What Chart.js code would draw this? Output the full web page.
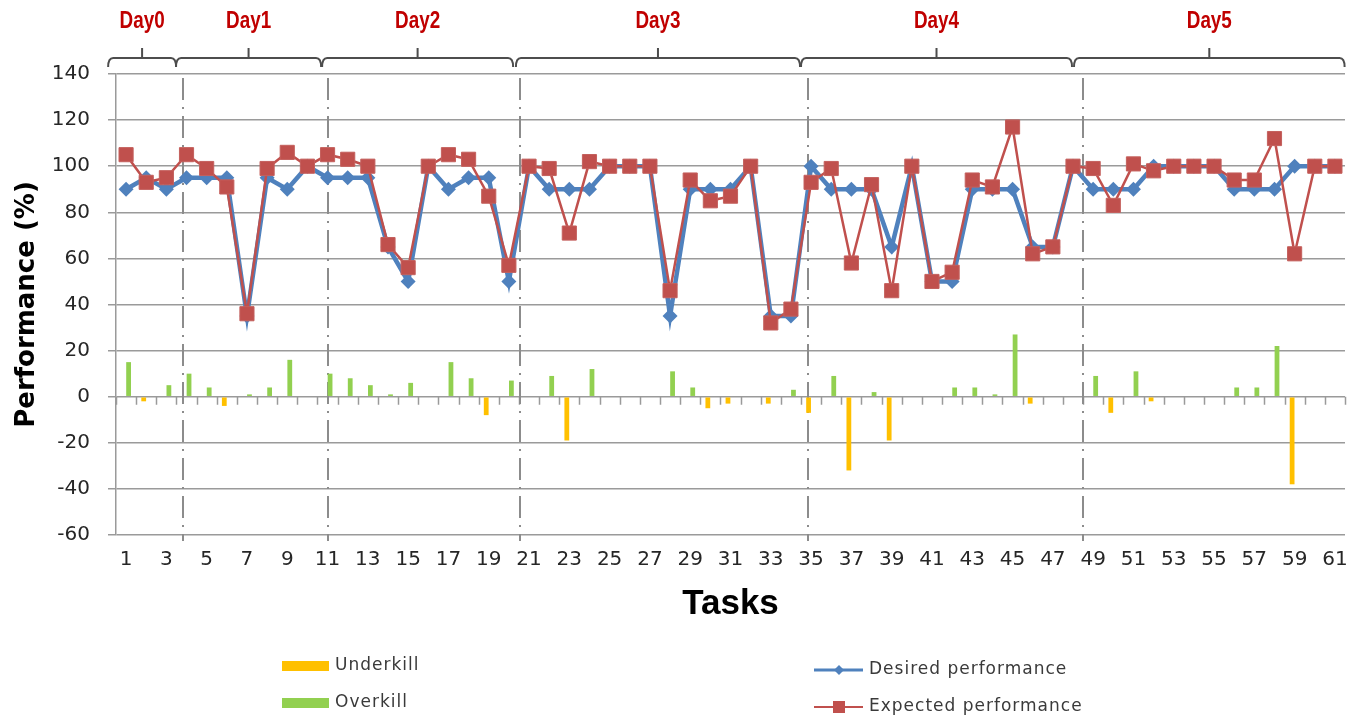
<!DOCTYPE html>
<html>
<head>
<meta charset="utf-8">
<style>
html,body{margin:0;padding:0;background:#fff;overflow:hidden}
#wrap{position:relative;width:1363px;height:719px}
</style>
<script src="https://cdn.jsdelivr.net/npm/chart.js@4.4.0/dist/chart.umd.min.js"></script>
</head>
<body>
<div id="wrap"><canvas id="c" width="1363" height="719"></canvas></div>
<script>
// ---------- data ----------
const tasks = ['1','2','3','4','5','6','7','8','9','10','11','12','13','14','15','16','17','18','19','20',
  '21','22','23','24','25','26','27','28','29','30','31','32','33','34','35','36','37','38','39','40',
  '41','42','43','44','45','46','47','48','49','50','51','52','53','54','55','56','57','58','59','60','61'];

const desired = [90,95,90,95,95,95,35,95,90,100, 95,95,95,65,50,100,90,95,95,50,
  100,90,90,90,100,100,100,35,90,90, 90,100,35,35,100,90,90,90,65,100,
  50,50,90,90,90,65,65,100,90,90, 90,100,100,100,100,90,90,90,100,100, 100];

const expected = [105,93,95,105,99,91,36,99,106,100, 105,103,100,66,56,100,105,103,87,57,
  100,99,71,102,100,100,100,46,94,85, 87,100,32,38,93,99,58,92,46,100,
  50,54,94,91,117,62,65,100,99,83, 101,98,100,100,100,94,94,112,62,100, 100];

const underkill = [null,-2,null,null,null,-4,null,null,null,null, null,null,null,null,null,null,null,null,-8,null,
  null,null,-19,null,null,null,null,null,null,-5, -3,null,-3,null,-7,null,-32,null,-19,null,
  null,null,null,null,null,-3,null,null,null,-7, null,-2,null,null,null,null,null,null,-38,null, null];

const overkill = [15,null,5,10,4,null,1,4,16,null, 10,8,5,1,6,null,15,8,null,7,
  null,9,null,12,null,null,null,11,4,null, null,null,null,3,null,9,null,2,null,null,
  null,4,4,1,27,null,null,null,9,null, 11,null,null,null,null,4,4,22,null,null, null];

const yMin = -60, yMax = 140, yStep = 20;

const dayNames = ['Day0','Day1','Day2','Day3','Day4','Day5'];
const dayStart = [0.11, 3.48, 10.73, 20.35, 34.5, 48.05];   // in task units
const dayEnd   = [3.48, 10.68, 20.21, 34.45, 47.95, 61.48];
const separators = [3.83, 11.01, 20.55, 34.83, 48.51];       // day separators, task units

const legendItems = [
  {label:'Underkill', kind:'bar', color:'#FFC000'},
  {label:'Overkill', kind:'bar', color:'#92D050'},
  {label:'Desired performance', kind:'line', color:'#4F81BD', style:'diamond'},
  {label:'Expected performance', kind:'line', color:'#C0504D', style:'square'}
];

// ---------- helpers ----------
function taskX(xs, t){ return xs.getPixelForValue(t - 1); }

const deco = {
  id:'deco',
  beforeDatasetsDraw(chart){
    const ctx = chart.ctx, xs = chart.scales.x, ys = chart.scales.y, ca = chart.chartArea;
    ctx.save();
    const y0 = ys.getPixelForValue(0);
    ctx.strokeStyle = '#9a9a9a'; ctx.lineWidth = 1.5;
    ctx.beginPath();
    for (let k = 0; k <= tasks.length; k++){
      const x = Math.round(xs.getPixelForValue(k - 0.5)) + 0.5;
      ctx.moveTo(x, y0); ctx.lineTo(x, y0 + 8);
    }
    ctx.stroke();
    ctx.strokeStyle = '#8c8c8c'; ctx.lineWidth = 2;
    ctx.setLineDash([22,7,2,7]);
    separators.forEach(t => {
      const x = Math.round(taskX(xs, t));
      ctx.beginPath(); ctx.moveTo(x, ca.top + 4); ctx.lineTo(x, ca.bottom + 6); ctx.stroke();
    });
    ctx.restore();
  },
  afterDraw(chart){
    const ctx = chart.ctx, xs = chart.scales.x;
    ctx.save();
    ctx.strokeStyle = '#4d4d4d'; ctx.lineWidth = 2; ctx.setLineDash([]);
    const yl = 58, yEnd = 67, yTip = 48;
    for (let i = 0; i < dayNames.length; i++){
      const a = taskX(xs, dayStart[i]), b = taskX(xs, dayEnd[i]), m = (a + b) / 2;
      ctx.beginPath();
      ctx.moveTo(a, yEnd);
      ctx.quadraticCurveTo(a, yl, a + 5, yl);
      ctx.lineTo(b - 5, yl);
      ctx.quadraticCurveTo(b, yl, b, yEnd);
      ctx.moveTo(m, yl); ctx.lineTo(m, yTip);
      ctx.stroke();
      ctx.save();
      ctx.fillStyle = '#C00000';
      ctx.font = 'bold 23px "Liberation Sans", Arial, sans-serif';
      ctx.textAlign = 'center'; ctx.textBaseline = 'middle';
      ctx.translate(m, 22); ctx.scale(0.82, 1);
      ctx.fillText(dayNames[i], 0, 0);
      ctx.restore();
    }
    ctx.letterSpacing = '1px';
    ctx.font = '17px "DejaVu Sans", sans-serif';
    ctx.textAlign = 'left'; ctx.textBaseline = 'middle';
    const pos = [
      {x:282, y:666}, {x:282, y:703}, {x:814, y:670}, {x:814, y:707}
    ];
    legendItems.forEach((it, i) => {
      const p = pos[i];
      if (it.kind === 'bar'){
        ctx.fillStyle = it.color;
        ctx.fillRect(p.x, p.y - 5, 47, 10);
        ctx.fillStyle = '#3a3a3a';
        ctx.fillText(it.label, p.x + 53, p.y);
      } else {
        ctx.strokeStyle = it.color; ctx.lineWidth = it.style === 'diamond' ? 3 : 2;
        ctx.beginPath(); ctx.moveTo(p.x, p.y); ctx.lineTo(p.x + 49, p.y); ctx.stroke();
        ctx.fillStyle = it.color;
        const cx = p.x + 25;
        if (it.style === 'diamond'){
          ctx.beginPath(); ctx.moveTo(cx - 5, p.y); ctx.lineTo(cx, p.y - 5); ctx.lineTo(cx + 5, p.y); ctx.lineTo(cx, p.y + 5); ctx.closePath(); ctx.fill();
        } else {
          ctx.fillRect(cx - 6, p.y - 6, 12, 12);
        }
        ctx.fillStyle = '#3a3a3a';
        ctx.fillText(it.label, p.x + 55, p.y);
      }
    });
    ctx.restore();
  }
};

const tickFont = {family:'"DejaVu Sans", sans-serif', size:20};

new Chart(document.getElementById('c').getContext('2d'), {
  data: {
    labels: tasks,
    datasets: [
      {type:'bar', label:'Underkill', data: underkill, backgroundColor:'#FFC000', order:2,
       categoryPercentage:0.5, barPercentage:0.95},
      {type:'bar', label:'Overkill', data: overkill, backgroundColor:'#92D050', order:3,
       categoryPercentage:0.5, barPercentage:0.95},
      {type:'line', label:'Desired performance', data: desired, borderColor:'#4F81BD', backgroundColor:'#4F81BD',
       borderWidth:4.5, pointStyle:'rectRot', pointRadius:7.5, pointBorderWidth:0, tension:0, order:1},
      {type:'line', label:'Expected performance', data: expected, borderColor:'#C0504D', backgroundColor:'#C0504D',
       borderWidth:2.5, pointStyle:'rect', pointRadius:10, pointBorderWidth:1, pointBorderColor:'#c4605d', tension:0, order:0}
    ]
  },
  options: {
    responsive:false, animation:false,
    layout:{padding:{top:74, right:18, bottom:94, left:0}},
    plugins:{legend:{display:false}, tooltip:{enabled:false}},
    scales:{
      x:{
        type:'category', offset:true,
        grid:{display:false}, border:{display:false},
        ticks:{autoSkip:false, maxRotation:0, minRotation:0, padding:5, color:'#262626', font:tickFont,
          callback:(v,i)=> i % 2 === 0 ? tasks[i] : ''},
        title:{display:true, text:'Tasks', color:'#000', padding:0,
          font:{family:'"Liberation Sans", Arial, sans-serif', size:35, weight:'bold'}},
        afterFit:s=>{ s.height = 90; }
      },
      y:{
        min:yMin, max:yMax,
        ticks:{stepSize:yStep, padding:18, color:'#262626', font:tickFont},
        grid:{color:'#9a9a9a', lineWidth:1.5, tickLength:8, drawTicks:true},
        border:{display:true, color:'#9a9a9a', width:1.5},
        title:{display:true, text:'Performance (%)', color:'#000', padding:{top:12, bottom:0},
          font:{family:'"DejaVu Sans", sans-serif', size:26, weight:'bold'}},
        afterFit:s=>{ s.width = 116; }
      }
    }
  },
  plugins:[deco]
});
</script>
</body>
</html>
